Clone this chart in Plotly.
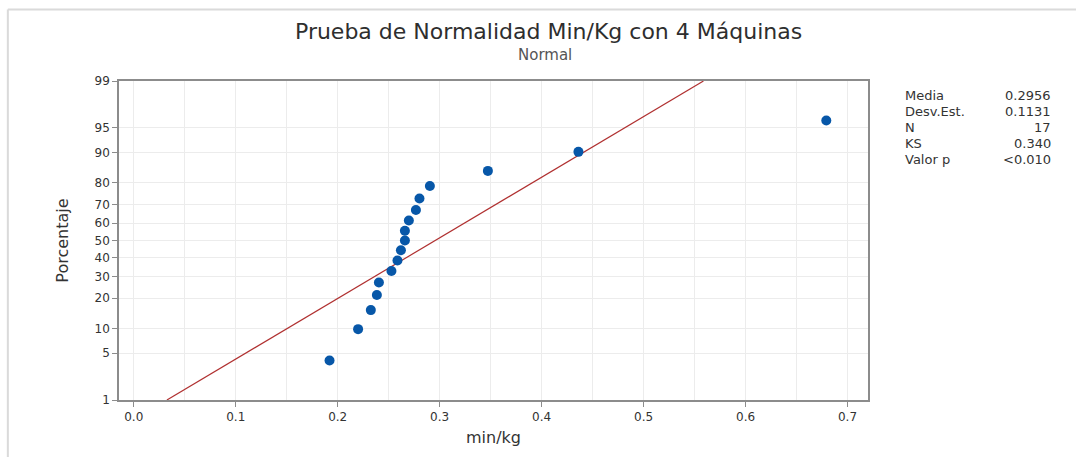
import plotly.graph_objects as go
from statistics import NormalDist

# ---- data ----
min_kg = [0.192, 0.220, 0.2325, 0.2384, 0.2404, 0.2527, 0.2586, 0.2620, 0.2659,
          0.2659, 0.2698, 0.2767, 0.2802, 0.2904, 0.3473, 0.4361, 0.6792]
porcentaje = [4.0, 9.8, 15.5, 21.3, 27.0, 32.8, 38.5, 44.3, 50.0,
              55.7, 61.5, 67.2, 73.0, 78.7, 84.5, 90.2, 96.0]
y_ticks = [1, 5, 10, 20, 30, 40, 50, 60, 70, 80, 90, 95, 99]
x_ticks = [0.0, 0.1, 0.2, 0.3, 0.4, 0.5, 0.6, 0.7]
stat_labels = ["Media", "Desv.Est.", "N", "KS", "Valor p"]
stat_values = ["0.2956", "0.1131", "17", "0.340", "<0.010"]
media = 0.2956
desv = 0.1131
fit_pct = [1, 99]

nd = NormalDist()
def z(p):
    return nd.inv_cdf(p / 100.0)

W, H = 1076, 457
L, R, T, B = 118.7, 208, 81, 57
pw, ph = W - L - R, H - T - B
def px(xp):
    return (xp - L) / pw
def py(yp):
    return (H - B - yp) / ph

FONT = "DejaVu Sans"
fig = go.Figure()
fig.add_trace(go.Scatter(
    x=[media + desv * z(p) for p in fit_pct], y=[z(p) for p in fit_pct],
    mode="lines", line=dict(color="#b03030", width=1.2),
    hoverinfo="skip", showlegend=False))
fig.add_trace(go.Scatter(
    x=min_kg, y=[z(p) for p in porcentaje], mode="markers",
    marker=dict(color="#0757a8", size=10, line=dict(width=0)),
    showlegend=False))

gridc = "#ececec"
fig.update_xaxes(
    range=[-0.0145, 0.7201], tickvals=x_ticks, ticktext=[f"{v:.1f}" for v in x_ticks],
    showgrid=True, gridcolor=gridc, gridwidth=1, automargin=False,
    minor=dict(dtick=0.05, tick0=0, showgrid=True, gridcolor=gridc, gridwidth=1, ticklen=0),
    showline=True, linecolor="#8c8c8c", linewidth=1.5, mirror=True,
    ticks="outside", ticklen=5, tickcolor="#8c8c8c",
    zeroline=False, tickfont=dict(size=12, color="#333333", family=FONT),
    title=dict(text="min/kg", font=dict(size=16, color="#333333", family=FONT), standoff=9))
fig.update_yaxes(
    range=[z(1), z(99)], tickvals=[z(v) for v in y_ticks], ticktext=[str(v) for v in y_ticks],
    showgrid=True, gridcolor=gridc, gridwidth=1, automargin=False,
    showline=True, linecolor="#8c8c8c", linewidth=1.5, mirror=True,
    ticks="outside", ticklen=5, tickcolor="#8c8c8c",
    zeroline=False, tickfont=dict(size=12, color="#333333", family=FONT),
    title=dict(text="Porcentaje", font=dict(size=16, color="#333333"), standoff=22))

ann = []
ann.append(dict(text="Prueba de Normalidad Min/Kg con 4 Máquinas", x=px(548), y=py(31),
                xref="paper", yref="paper", showarrow=False,
                font=dict(size=22, color="#2e2e2e", family=FONT),
                xanchor="center", yanchor="middle"))
ann.append(dict(text="Normal", x=px(545), y=py(55), xref="paper", yref="paper",
                showarrow=False, font=dict(size=15, color="#555555", family=FONT),
                xanchor="center", yanchor="middle"))
for i, (lab, val) in enumerate(zip(stat_labels, stat_values)):
    yy = 95 + i * 16.2
    ann.append(dict(text=lab, x=px(903), y=py(yy), xref="paper", yref="paper",
                    showarrow=False, font=dict(size=13, color="#333333", family=FONT),
                    xanchor="left", yanchor="middle"))
    ann.append(dict(text=val, x=px(1053), y=py(yy), xref="paper", yref="paper",
                    showarrow=False, font=dict(size=13, color="#333333", family=FONT),
                    xanchor="right", yanchor="middle"))

shapes = [
    dict(type="line", xref="paper", yref="paper", x0=px(7.5), x1=px(1080),
         y0=py(9.5), y1=py(9.5), line=dict(color="#dadada", width=2)),
    dict(type="line", xref="paper", yref="paper", x0=px(7.5), x1=px(7.5),
         y0=py(9.5), y1=py(460), line=dict(color="#dadada", width=2)),
]

fig.update_layout(
    width=W, height=H, margin=dict(l=L, r=R, t=T, b=B, autoexpand=False),
    paper_bgcolor="white", plot_bgcolor="white",
    font=dict(family=FONT, color="#333333"),
    annotations=ann, shapes=shapes, showlegend=False)

fig.write_html("out.html")
